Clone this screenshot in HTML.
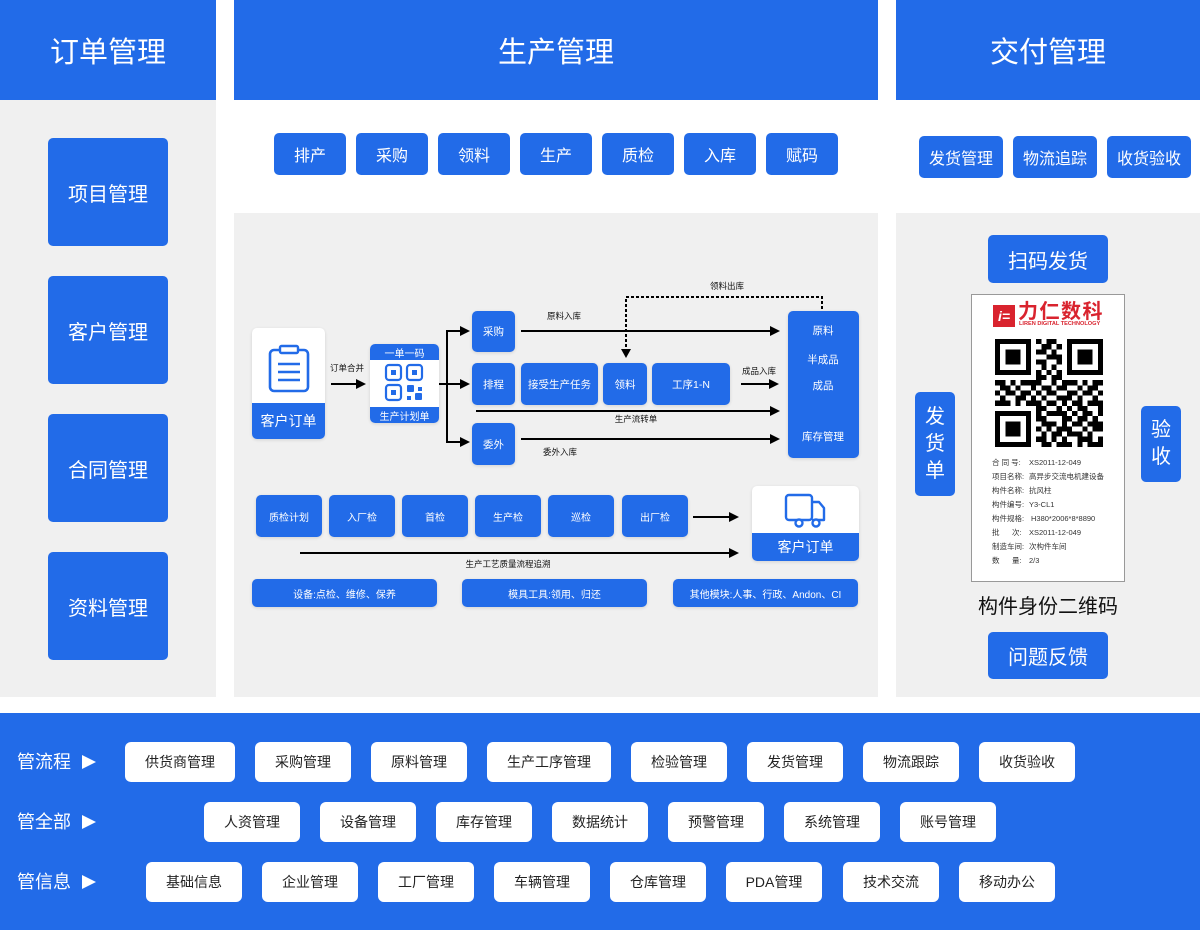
<!DOCTYPE html>
<html><head><meta charset="utf-8">
<style>
*{margin:0;padding:0;box-sizing:border-box}
body{width:1200px;height:930px;background:#fff;position:relative;overflow:hidden;font-family:"Liberation Sans","Noto Sans CJK SC",sans-serif}
.a{position:absolute}
.bl{background:#226be8}
.gr{background:#f0f0f0}
.b{position:absolute;background:#226be8;color:#fff;display:flex;align-items:center;justify-content:center;border-radius:5px;white-space:nowrap}
.s{box-shadow:0 1px 3px rgba(0,0,0,0.12)}
.h{position:absolute;top:0;height:100px;background:#226be8;color:#fff;font-size:29px;display:flex;align-items:center;justify-content:center}
.w{position:absolute;background:#fff;color:#222;font-size:14px;display:flex;align-items:center;justify-content:center;border-radius:6px;white-space:nowrap}
.t{position:absolute;white-space:nowrap;color:#111;transform:translateX(-50%);line-height:1}
.lab{position:absolute;color:#fff;font-size:18px;line-height:1}
.cl{position:absolute;font-size:7.5px;color:#333;white-space:nowrap;line-height:1}
</style></head><body>

<!-- headers -->
<div class="h" style="left:0;width:216px">订单管理</div>
<div class="h" style="left:234px;width:644px">生产管理</div>
<div class="h" style="left:896px;width:304px">交付管理</div>

<!-- panels -->
<div class="a gr" style="left:0;top:100px;width:216px;height:597px"></div>
<div class="a gr" style="left:234px;top:213px;width:644px;height:484px"></div>
<div class="a gr" style="left:896px;top:213px;width:304px;height:484px"></div>

<!-- left boxes -->
<div class="b" style="left:48px;top:138px;width:120px;height:108px;font-size:20px">项目管理</div>
<div class="b" style="left:48px;top:276px;width:120px;height:108px;font-size:20px">客户管理</div>
<div class="b" style="left:48px;top:414px;width:120px;height:108px;font-size:20px">合同管理</div>
<div class="b" style="left:48px;top:552px;width:120px;height:108px;font-size:20px">资料管理</div>

<!-- center top buttons -->
<div class="b" style="left:274px;top:133px;width:72px;height:42px;font-size:16px">排产</div>
<div class="b" style="left:356px;top:133px;width:72px;height:42px;font-size:16px">采购</div>
<div class="b" style="left:438px;top:133px;width:72px;height:42px;font-size:16px">领料</div>
<div class="b" style="left:520px;top:133px;width:72px;height:42px;font-size:16px">生产</div>
<div class="b" style="left:602px;top:133px;width:72px;height:42px;font-size:16px">质检</div>
<div class="b" style="left:684px;top:133px;width:72px;height:42px;font-size:16px">入库</div>
<div class="b" style="left:766px;top:133px;width:72px;height:42px;font-size:16px">赋码</div>

<!-- right top buttons -->
<div class="b" style="left:919px;top:136px;width:84px;height:42px;font-size:16px">发货管理</div>
<div class="b" style="left:1013px;top:136px;width:84px;height:42px;font-size:16px">物流追踪</div>
<div class="b" style="left:1107px;top:136px;width:84px;height:42px;font-size:16px">收货验收</div>

<!-- connectors -->
<svg class="a" style="left:0;top:0" width="1200" height="930" viewBox="0 0 1200 930">
<g stroke="#000" stroke-width="2" fill="none">
<line x1="331" y1="384" x2="357" y2="384"/>
<polyline points="439,384 447,384"/>
<line x1="447" y1="330" x2="447" y2="443"/>
<line x1="446" y1="331" x2="461" y2="331"/>
<line x1="447" y1="384" x2="461" y2="384"/>
<line x1="446" y1="442" x2="461" y2="442"/>
<line x1="521" y1="331" x2="771" y2="331"/>
<line x1="741" y1="384" x2="770" y2="384"/>
<line x1="476" y1="411" x2="771" y2="411"/>
<line x1="521" y1="439" x2="771" y2="439"/>
<polyline points="822,309 822,297 626,297 626,350" stroke-dasharray="3,2"/>
<line x1="693" y1="517" x2="730" y2="517"/>
<line x1="300" y1="553" x2="730" y2="553"/>
</g>
<g fill="#000">
<polygon points="366,384 356,379 356,389"/>
<polygon points="470,331 460,326 460,336"/>
<polygon points="470,384 460,379 460,389"/>
<polygon points="470,442 460,437 460,447"/>
<polygon points="780,331 770,326 770,336"/>
<polygon points="779,384 769,379 769,389"/>
<polygon points="780,411 770,406 770,416"/>
<polygon points="780,439 770,434 770,444"/>
<polygon points="626,358 621,349 631,349"/>
<polygon points="739,517 729,512 729,522"/>
<polygon points="739,553 729,548 729,558"/>
</g>
</svg>

<!-- arrow labels -->
<div class="t" style="left:347px;top:364px;font-size:8.5px">订单合并</div>
<div class="t" style="left:564px;top:312px;font-size:8.5px">原料入库</div>
<div class="t" style="left:727px;top:282px;font-size:8.5px">领料出库</div>
<div class="t" style="left:759px;top:367px;font-size:8.5px">成品入库</div>
<div class="t" style="left:636px;top:415px;font-size:8.5px">生产流转单</div>
<div class="t" style="left:560px;top:448px;font-size:8.5px">委外入库</div>
<div class="t" style="left:508px;top:560px;font-size:8.5px">生产工艺质量流程追溯</div>

<!-- 客户订单 card left -->
<div class="a s" style="left:252px;top:328px;width:73px;height:111px;background:#fff;border-radius:5px;overflow:hidden">
  <div class="b" style="left:0;top:75px;width:73px;height:36px;border-radius:0;font-size:14px">客户订单</div>
  <svg class="a" style="left:0;top:0" width="73" height="75">
    <rect x="18" y="22" width="38" height="41" rx="4" fill="none" stroke="#226be8" stroke-width="2.6"/>
    <rect x="28" y="18" width="18" height="7" rx="1.5" fill="#fff" stroke="#226be8" stroke-width="2.4"/>
    <line x1="26" y1="36" x2="48" y2="36" stroke="#226be8" stroke-width="2.4"/>
    <line x1="26" y1="44" x2="48" y2="44" stroke="#226be8" stroke-width="2.4"/>
    <line x1="26" y1="52" x2="48" y2="52" stroke="#226be8" stroke-width="2.4"/>
  </svg>
</div>

<!-- 一单一码 card -->
<div class="a s" style="left:370px;top:344px;width:69px;height:79px;background:#fff;border-radius:5px;overflow:hidden">
  <div class="b" style="left:0;top:0;width:69px;height:16px;border-radius:0;font-size:10px">一单一码</div>
  <div class="b" style="left:0;top:63px;width:69px;height:16px;border-radius:0;font-size:10px">生产计划单</div>
  <svg class="a" style="left:0;top:16px" width="69" height="47">
    <g fill="none" stroke="#226be8" stroke-width="2.2">
      <rect x="16" y="5" width="15" height="15" rx="3"/>
      <rect x="37" y="5" width="15" height="15" rx="3"/>
      <rect x="16" y="25" width="15" height="15" rx="3"/>
    </g>
    <g fill="#226be8">
      <rect x="21" y="10" width="5" height="5"/>
      <rect x="42" y="10" width="5" height="5"/>
      <rect x="21" y="30" width="5" height="5"/>
      <rect x="37" y="25" width="7" height="7" rx="1"/>
      <rect x="48" y="27" width="4" height="4"/>
      <rect x="37" y="36" width="4" height="4"/>
      <rect x="45" y="33" width="7" height="7" rx="1"/>
    </g>
  </svg>
</div>

<!-- flow boxes -->
<div class="b s" style="left:472px;top:311px;width:43px;height:41px;font-size:10.5px">采购</div>
<div class="b s" style="left:472px;top:363px;width:43px;height:42px;font-size:10.5px">排程</div>
<div class="b s" style="left:472px;top:423px;width:43px;height:42px;font-size:10.5px">委外</div>
<div class="b s" style="left:521px;top:363px;width:77px;height:42px;font-size:10.5px">接受生产任务</div>
<div class="b s" style="left:603px;top:363px;width:44px;height:42px;font-size:10.5px">领料</div>
<div class="b s" style="left:652px;top:363px;width:78px;height:42px;font-size:10.5px">工序1-N</div>
<div class="b s" style="left:788px;top:311px;width:71px;height:147px;font-size:10.5px"></div>
<div class="t" style="left:823px;top:326px;font-size:10.5px;color:#fff">原料</div>
<div class="t" style="left:823px;top:355px;font-size:10.5px;color:#fff">半成品</div>
<div class="t" style="left:823px;top:381px;font-size:10.5px;color:#fff">成品</div>
<div class="t" style="left:823px;top:432px;font-size:10.5px;color:#fff">库存管理</div>

<!-- quality row -->
<div class="b s" style="left:256px;top:495px;width:66px;height:42px;font-size:10px">质检计划</div>
<div class="b s" style="left:329px;top:495px;width:66px;height:42px;font-size:10px">入厂检</div>
<div class="b s" style="left:402px;top:495px;width:66px;height:42px;font-size:10px">首检</div>
<div class="b s" style="left:475px;top:495px;width:66px;height:42px;font-size:10px">生产检</div>
<div class="b s" style="left:548px;top:495px;width:66px;height:42px;font-size:10px">巡检</div>
<div class="b s" style="left:622px;top:495px;width:66px;height:42px;font-size:10px">出厂检</div>

<!-- truck card -->
<div class="a s" style="left:752px;top:486px;width:107px;height:75px;background:#fff;border-radius:5px;overflow:hidden">
  <div class="b" style="left:0;top:47px;width:107px;height:28px;border-radius:0;font-size:14px">客户订单</div>
  <svg class="a" style="left:0;top:0" width="107" height="47">
    <g fill="none" stroke="#226be8" stroke-width="2.4" stroke-linejoin="round">
      <rect x="34" y="9" width="26" height="25" rx="3"/>
      <path d="M60 16 H67 L72 22 V34 H60"/>
      <circle cx="47" cy="37" r="3.5" fill="#fff"/>
      <circle cx="64" cy="37" r="3.5" fill="#fff"/>
    </g>
  </svg>
</div>

<!-- bottom pills -->
<div class="b s" style="left:252px;top:579px;width:185px;height:28px;font-size:10px">设备:点检、维修、保养</div>
<div class="b s" style="left:462px;top:579px;width:185px;height:28px;font-size:10px">模具工具:领用、归还</div>
<div class="b s" style="left:673px;top:579px;width:185px;height:28px;font-size:10px">其他模块:人事、行政、Andon、CI</div>

<!-- right panel -->
<div class="b" style="left:988px;top:235px;width:120px;height:48px;font-size:20px">扫码发货</div>
<div class="b" style="left:915px;top:392px;width:40px;height:104px;font-size:20px;flex-direction:column;line-height:27px;white-space:normal;text-align:center"><span>发</span><span>货</span><span>单</span></div>
<div class="b" style="left:1141px;top:406px;width:40px;height:76px;font-size:20px;flex-direction:column;line-height:27px;white-space:normal;text-align:center"><span>验</span><span>收</span></div>
<div class="a" style="left:971px;top:294px;width:154px;height:288px;background:#fff;border:1px solid #999"></div>
<!-- logo -->
<div class="a" style="left:993px;top:305px;width:22px;height:22px;background:#d9232e;color:#fff;font-size:14px;font-weight:bold;font-style:italic;display:flex;align-items:center;justify-content:center;line-height:1">i=</div>
<div class="a" style="left:1018px;top:302px;font-size:20px;font-weight:bold;color:#d9232e;letter-spacing:1.5px;line-height:1;white-space:nowrap">力仁数科</div>
<div class="a" style="left:1019px;top:322px;font-size:5.6px;font-weight:bold;color:#d9232e;line-height:1;white-space:nowrap">LIREN DIGITAL TECHNOLOGY</div>
<!-- qr -->
<svg class="a" style="left:995px;top:339px" width="108" height="108" viewBox="0 0 21 21" shape-rendering="crispEdges">
<path fill="#000" d="
M0 0h7v1h-7zM8 0h1v1h-1zM10 0h2v1h-2zM14 0h7v1h-7z
M0 1h1v1h-1zM6 1h1v1h-1zM9 1h2v1h-2zM12 1h1v1h-1zM14 1h1v1h-1zM20 1h1v1h-1z
M0 2h1v1h-1zM2 2h3v1h-3zM6 2h1v1h-1zM8 2h2v1h-2zM11 2h1v1h-1zM14 2h1v1h-1zM16 2h3v1h-3zM20 2h1v1h-1z
M0 3h1v1h-1zM2 3h3v1h-3zM6 3h1v1h-1zM10 3h3v1h-3zM14 3h1v1h-1zM16 3h3v1h-3zM20 3h1v1h-1z
M0 4h1v1h-1zM2 4h3v1h-3zM6 4h1v1h-1zM8 4h2v1h-2zM12 4h1v1h-1zM14 4h1v1h-1zM16 4h3v1h-3zM20 4h1v1h-1z
M0 5h1v1h-1zM6 5h1v1h-1zM9 5h1v1h-1zM11 5h1v1h-1zM14 5h1v1h-1zM20 5h1v1h-1z
M0 6h7v1h-7zM8 6h1v1h-1zM10 6h1v1h-1zM12 6h1v1h-1zM14 6h7v1h-7z
M8 7h2v1h-2zM11 7h2v1h-2z
M0 8h2v1h-2zM3 8h1v1h-1zM5 8h4v1h-4zM11 8h1v1h-1zM13 8h3v1h-3zM17 8h1v1h-1zM19 8h2v1h-2z
M1 9h2v1h-2zM4 9h1v1h-1zM7 9h1v1h-1zM9 9h2v1h-2zM12 9h2v1h-2zM16 9h1v1h-1zM18 9h2v1h-2z
M0 10h1v1h-1zM2 10h2v1h-2zM5 10h2v1h-2zM8 10h1v1h-1zM10 10h2v1h-2zM14 10h2v1h-2zM17 10h2v1h-2zM20 10h1v1h-1z
M1 11h1v1h-1zM4 11h2v1h-2zM7 11h1v1h-1zM9 11h1v1h-1zM12 11h3v1h-3zM16 11h1v1h-1zM19 11h1v1h-1z
M0 12h3v1h-3zM4 12h1v1h-1zM6 12h3v1h-3zM10 12h2v1h-2zM13 12h1v1h-1zM15 12h2v1h-2zM18 12h3v1h-3z
M8 13h2v1h-2zM12 13h1v1h-1zM14 13h1v1h-1zM16 13h2v1h-2zM20 13h1v1h-1z
M0 14h7v1h-7zM8 14h1v1h-1zM10 14h4v1h-4zM15 14h1v1h-1zM17 14h2v1h-2zM20 14h1v1h-1z
M0 15h1v1h-1zM6 15h1v1h-1zM8 15h2v1h-2zM13 15h2v1h-2zM16 15h2v1h-2zM19 15h1v1h-1z
M0 16h1v1h-1zM2 16h3v1h-3zM6 16h1v1h-1zM9 16h3v1h-3zM13 16h1v1h-1zM15 16h2v1h-2zM18 16h3v1h-3z
M0 17h1v1h-1zM2 17h3v1h-3zM6 17h1v1h-1zM8 17h1v1h-1zM10 17h1v1h-1zM12 17h3v1h-3zM17 17h1v1h-1zM19 17h2v1h-2z
M0 18h1v1h-1zM2 18h3v1h-3zM6 18h1v1h-1zM9 18h1v1h-1zM11 18h2v1h-2zM14 18h3v1h-3zM18 18h1v1h-1z
M0 19h1v1h-1zM6 19h1v1h-1zM8 19h2v1h-2zM11 19h1v1h-1zM13 19h1v1h-1zM16 19h3v1h-3zM20 19h1v1h-1z
M0 20h7v1h-7zM9 20h2v1h-2zM12 20h3v1h-3zM16 20h1v1h-1zM18 20h3v1h-3z"/>
</svg>
<!-- card text -->
<div class="cl" style="left:992px;top:459px">合 同 号:</div><div class="cl" style="left:1029px;top:459px">XS2011-12-049</div>
<div class="cl" style="left:992px;top:473px">项目名称:</div><div class="cl" style="left:1029px;top:473px">高异步交流电机建设备</div>
<div class="cl" style="left:992px;top:487px">构件名称:</div><div class="cl" style="left:1029px;top:487px">抗风柱</div>
<div class="cl" style="left:992px;top:501px">构件编号:</div><div class="cl" style="left:1029px;top:501px">Y3-CL1</div>
<div class="cl" style="left:992px;top:515px">构件规格:</div><div class="cl" style="left:1031px;top:515px">H380*2006*8*8890</div>
<div class="cl" style="left:992px;top:529px">批&nbsp;&nbsp;&nbsp;&nbsp;&nbsp;&nbsp;次:</div><div class="cl" style="left:1029px;top:529px">XS2011-12-049</div>
<div class="cl" style="left:992px;top:543px">制造车间:</div><div class="cl" style="left:1029px;top:543px">次构件车间</div>
<div class="cl" style="left:992px;top:557px">数&nbsp;&nbsp;&nbsp;&nbsp;&nbsp;&nbsp;量:</div><div class="cl" style="left:1029px;top:557px">2/3</div>

<div class="t" style="left:1048px;top:597px;font-size:20px;color:#111">构件身份二维码</div>
<div class="b" style="left:988px;top:632px;width:120px;height:47px;font-size:20px">问题反馈</div>

<!-- bottom bar -->
<div class="a bl" style="left:0;top:713px;width:1200px;height:217px"></div>
<div class="lab" style="left:17px;top:753px">管流程</div>
<div class="lab" style="left:17px;top:813px">管全部</div>
<div class="lab" style="left:17px;top:873px">管信息</div>
<svg class="a" style="left:0;top:713px" width="110" height="217">
<g fill="#fff">
<polygon points="82,42 96,49 82,56"/>
<polygon points="82,102 96,109 82,116"/>
<polygon points="82,162 96,169 82,176"/>
</g>
</svg>

<div class="w" style="left:125px;top:742px;width:110px;height:40px">供货商管理</div>
<div class="w" style="left:255px;top:742px;width:96px;height:40px">采购管理</div>
<div class="w" style="left:371px;top:742px;width:96px;height:40px">原料管理</div>
<div class="w" style="left:487px;top:742px;width:124px;height:40px">生产工序管理</div>
<div class="w" style="left:631px;top:742px;width:96px;height:40px">检验管理</div>
<div class="w" style="left:747px;top:742px;width:96px;height:40px">发货管理</div>
<div class="w" style="left:863px;top:742px;width:96px;height:40px">物流跟踪</div>
<div class="w" style="left:979px;top:742px;width:96px;height:40px">收货验收</div>

<div class="w" style="left:204px;top:802px;width:96px;height:40px">人资管理</div>
<div class="w" style="left:320px;top:802px;width:96px;height:40px">设备管理</div>
<div class="w" style="left:436px;top:802px;width:96px;height:40px">库存管理</div>
<div class="w" style="left:552px;top:802px;width:96px;height:40px">数据统计</div>
<div class="w" style="left:668px;top:802px;width:96px;height:40px">预警管理</div>
<div class="w" style="left:784px;top:802px;width:96px;height:40px">系统管理</div>
<div class="w" style="left:900px;top:802px;width:96px;height:40px">账号管理</div>

<div class="w" style="left:146px;top:862px;width:96px;height:40px">基础信息</div>
<div class="w" style="left:262px;top:862px;width:96px;height:40px">企业管理</div>
<div class="w" style="left:378px;top:862px;width:96px;height:40px">工厂管理</div>
<div class="w" style="left:494px;top:862px;width:96px;height:40px">车辆管理</div>
<div class="w" style="left:610px;top:862px;width:96px;height:40px">仓库管理</div>
<div class="w" style="left:726px;top:862px;width:96px;height:40px">PDA管理</div>
<div class="w" style="left:843px;top:862px;width:96px;height:40px">技术交流</div>
<div class="w" style="left:959px;top:862px;width:96px;height:40px">移动办公</div>

</body></html>
